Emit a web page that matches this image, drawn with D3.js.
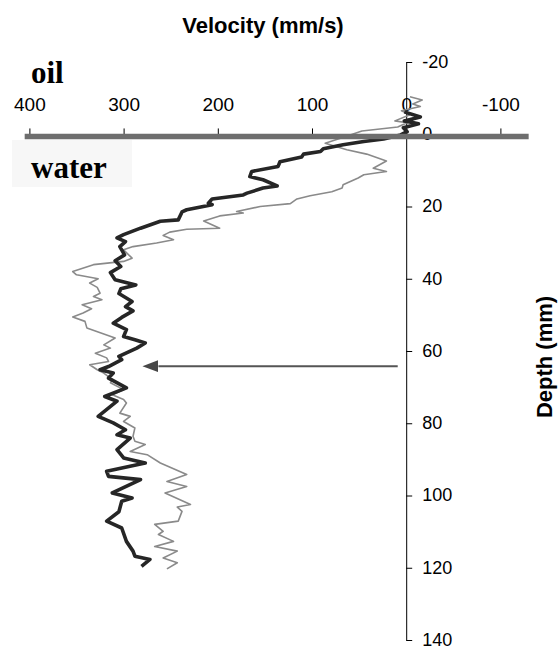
<!DOCTYPE html>
<html>
<head>
<meta charset="utf-8">
<script src="https://cdn.jsdelivr.net/npm/d3@7"></script>
<style>
  body { margin: 0; background: #fff; }
  text { font-family: "Liberation Sans", Arial, sans-serif; }
</style>
</head>
<body>
<div id="chart"></div>
<script>
// Velocity profiles, depth (mm) vs velocity (mm/s)
const darkDepth = [-6.2, -4.8, -3.7, -2.9, -1.8, -0.7, 0.2, 1.3, 2.0, 2.9, 4.0, 4.8, 5.5, 6.3, 7.6, 8.9, 10.3, 11.7, 12.6, 14.3,
    14.9, 16.3, 16.8, 17.9, 19.1, 19.5, 20.9, 21.5, 23.7, 24.1, 26.0, 27.8, 28.7, 29.7, 31.1, 32.0, 33.4, 35.0, 36.6, 38.3,
    40.3, 41.7, 42.8, 44.1, 46.3, 47.7, 48.9, 50.7, 52.3, 54.1, 56.0, 56.9, 57.8, 59.2, 61.5, 62.4, 64.3, 65.2, 66.1, 67.5,
    70.2, 72.6, 73.9, 78.1, 79.9, 81.8, 83.2, 84.1, 87.3, 89.6, 91.0, 93.3, 94.7, 95.6, 99.3, 100.7, 101.6, 104.5, 107.1, 109.0,
    112.7, 115.4, 116.8, 117.7, 119.6];
const darkVel = [2, -15, 2, -13, 3, -1, 6, 24, 45, 67, 88, 91, 109, 111, 134, 136, 164, 166, 152, 137,
    152, 169, 173, 206, 210, 206, 233, 238, 242, 261, 282, 300, 307, 298, 304, 302, 299, 309, 303, 314,
    309, 287, 303, 305, 291, 298, 290, 302, 311, 297, 300, 288, 277, 286, 305, 302, 316, 325, 311, 316,
    297, 320, 307, 327, 311, 298, 307, 293, 307, 300, 277, 318, 316, 282, 312, 291, 302, 305, 318, 302,
    297, 290, 288, 272, 281];

const grayDepth = [-10.4, -9.5, -8.4, -7.7, -6.5, -5.4, -3.7, -3.2, -2.0, -0.9, 0.7, 2.5, 4.3, 5.5, 7.4, 9.4, 10.3, 11.2, 12.1, 14.0,
    14.9, 15.9, 17.0, 17.9, 19.2, 20.0, 21.4, 21.8, 22.6, 24.0, 26.0, 26.3, 27.1, 28.0, 29.2, 30.1, 31.1, 32.0, 34.3, 35.2,
    36.1, 38.0, 38.9, 40.0, 41.2, 42.4, 44.0, 44.9, 45.8, 47.2, 48.3, 49.5, 50.6, 51.8, 53.6, 56.4, 58.3, 59.2, 60.6, 61.9,
    62.9, 63.8, 65.2, 66.1, 67.9, 68.8, 70.7, 72.1, 73.4, 74.4, 77.2, 78.1, 79.5, 81.3, 83.6, 85.0, 85.9, 87.8, 88.7, 91.0,
    94.2, 96.1, 97.5, 99.3, 102.5, 103.2, 104.4, 107.1, 108.0, 109.9, 110.8, 112.7, 114.1, 115.4, 117.3, 118.6, 120.3];
const grayVel = [-4, -17, -7, -15, 5, -4, 12, -1, 9, 47, 65, 86, 63, 42, 21, 35, 21, 45, 51, 67,
    68, 79, 102, 116, 123, 155, 180, 173, 198, 215, 198, 233, 251, 258, 247, 265, 290, 300, 291, 300,
    332, 354, 350, 327, 336, 328, 325, 332, 323, 344, 334, 343, 354, 341, 339, 309, 321, 314, 330, 318,
    316, 336, 328, 321, 312, 314, 300, 312, 300, 297, 304, 293, 300, 288, 290, 288, 277, 293, 275, 261,
    233, 254, 233, 256, 229, 243, 238, 242, 267, 258, 263, 247, 267, 243, 258, 243, 254];

const velTicks = [400, 300, 200, 100, 0, -100];
const depthTicks = [-20, 0, 20, 40, 60, 80, 100, 120, 140];

// arrow annotation: depth, from velocity, to velocity
const arrowDepth = 64.2;
const arrowFrom = 9;
const arrowTo = 280;

const width = 558, height = 647;

const svg = d3.select("#chart")
    .append("svg")
    .attr("width", width)
    .attr("height", height);

const x = d3.scaleLinear().domain([400, -100]).range([29.4, 500.4]);
const y = d3.scaleLinear().domain([-20, 140]).range([62, 640]);

// plain hyphen for negatives, like the original
const fmt = d => String(d);

// title
svg.append("text")
    .attr("x", 263)
    .attr("y", 33)
    .attr("text-anchor", "middle")
    .style("font-size", "22px")
    .style("font-weight", "bold")
    .text("Velocity (mm/s)");

// depth axis
const yAxis = svg.append("g")
    .attr("transform", `translate(${x(0)},0)`)
    .call(d3.axisRight(y).tickValues(depthTicks).tickFormat(fmt).tickSize(6).tickSizeOuter(0).tickPadding(10));
yAxis.select(".domain").attr("stroke", "#000");
yAxis.selectAll("line").attr("stroke", "#000");
yAxis.selectAll("text").style("font-size", "18px").attr("fill", "#000").attr("dy", "0.3em");

svg.append("text")
    .attr("transform", "translate(552,357) rotate(-90)")
    .attr("text-anchor", "middle")
    .style("font-size", "22px")
    .style("font-weight", "bold")
    .text("Depth (mm)");

// velocity axis
const barY = y(0) + 2.2;
const xAxis = svg.append("g")
    .attr("transform", `translate(0,${barY})`)
    .call(d3.axisTop(x).tickValues(velTicks).tickFormat(fmt).tickSize(8).tickPadding(17));
xAxis.select(".domain").remove();
xAxis.selectAll("line").attr("stroke", "#000");
xAxis.selectAll("text").style("font-size", "19px").attr("fill", "#000");

// labels
svg.append("text")
    .attr("x", 31)
    .attr("y", 83)
    .style("font-family", "'Liberation Serif', 'Times New Roman', serif")
    .style("font-size", "31px")
    .style("font-weight", "bold")
    .text("oil");

svg.append("rect")
    .attr("x", 12).attr("y", 140)
    .attr("width", 120).attr("height", 47)
    .attr("fill", "#f7f7f7");

svg.append("text")
    .attr("x", 31)
    .attr("y", 178)
    .style("font-family", "'Liberation Serif', 'Times New Roman', serif")
    .style("font-size", "31px")
    .style("font-weight", "bold")
    .text("water");

// curves
const darkData = darkDepth.map((d, i) => ({ depth: d, vel: darkVel[i] }));
const grayData = grayDepth.map((d, i) => ({ depth: d, vel: grayVel[i] }));

const line = d3.line()
    .x(d => x(d.vel))
    .y(d => y(d.depth));

svg.append("path")
    .datum(grayData)
    .attr("d", line)
    .attr("fill", "none")
    .attr("stroke", "#8a8a8a")
    .attr("stroke-width", 1.6)
    .attr("stroke-linejoin", "round");

svg.append("path")
    .datum(darkData)
    .attr("d", line)
    .attr("fill", "none")
    .attr("stroke", "#262626")
    .attr("stroke-width", 3.6)
    .attr("stroke-linejoin", "round");

// oil / water interface bar
svg.append("line")
    .attr("x1", x(405))
    .attr("x2", x(-130))
    .attr("y1", barY)
    .attr("y2", barY)
    .attr("stroke", "#6e6e6e")
    .attr("stroke-width", 5.5);

// arrow
svg.append("defs").append("marker")
    .attr("id", "arrowhead")
    .attr("viewBox", "0 -6 16 12")
    .attr("refX", 0)
    .attr("markerUnits", "userSpaceOnUse")
    .attr("markerWidth", 16)
    .attr("markerHeight", 12)
    .attr("orient", "auto")
    .append("path")
        .attr("d", "M0,-6L16,0L0,6Z")
        .style("fill", "#474747");

svg.append("line")
    .attr("x1", x(arrowFrom))
    .attr("x2", x(arrowTo) + 16)
    .attr("y1", y(arrowDepth))
    .attr("y2", y(arrowDepth))
    .attr("stroke", "#555")
    .attr("stroke-width", 2)
    .attr("marker-end", "url(#arrowhead)");
</script>
</body>
</html>
